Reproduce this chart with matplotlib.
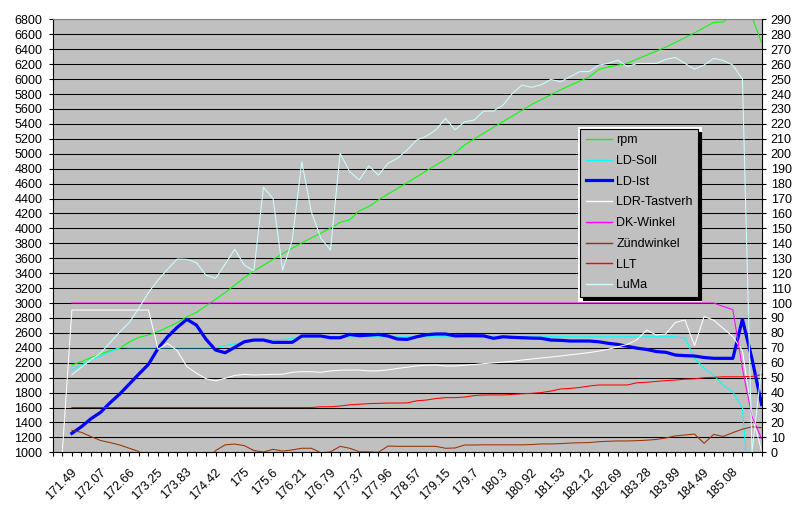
import numpy as np
import matplotlib
matplotlib.use('Agg')
import matplotlib.pyplot as plt
from matplotlib.patches import Rectangle
from matplotlib.transforms import ScaledTranslation

plt.rcParams['font.family'] = ['Liberation Sans', 'DejaVu Sans']

nan = np.nan

# x axis: one sample per category, labels on every third sample
time_labels = ['171.49', '172.07', '172.66', '173.25', '173.83', '174.42', '175', '175.6',
               '176.21', '176.79', '177.37', '177.96', '178.57', '179.15', '179.7', '180.3',
               '180.92', '181.53', '182.12', '182.69', '183.28', '183.89', '184.49', '185.08']
label_idx = list(range(2, 74, 3))

# left axis (rpm, mbar)
rpm = [nan, nan, 2170, 2215, 2268, 2318, 2362, 2395, 2480, 2540, 2572, 2617, 2676, 2738, 2816,
       2874, 2962, 3050, 3139, 3240, 3340, 3430, 3507, 3583, 3660, 3735, 3805, 3872, 3936, 4004,
       4080, 4115, 4235, 4293, 4380, 4460, 4535, 4612, 4691, 4770, 4848, 4925, 5010, 5118, 5198,
       5276, 5353, 5430, 5506, 5584, 5661, 5725, 5790, 5855, 5916, 5972, 6026, 6130, 6163, 6187,
       6215, 6268, 6321, 6375, 6428, 6490, 6555, 6620, 6690, 6760, 6765, 6880, 6950, 6830, 6490]
ld_soll = [nan, nan, 2102, 2169, 2236, 2290, 2348, 2405, 2400, 2400, 2400, 2400, 2400, 2400, 2400,
           2400, 2400, 2400, 2430, 2452, 2475, 2494, 2500, 2504, 2512, 2525, 2548, 2548, 2548, 2548,
           2548, 2548, 2548, 2548, 2548, 2548, 2548, 2548, 2548, 2548, 2548, 2548, 2548, 2548, 2548,
           2548, 2548, 2548, 2548, 2548, 2548, 2548, 2548, 2548, 2548, 2548, 2548, 2548, 2548, 2548,
           2548, 2548, 2548, 2548, 2548, 2548, 2530, 2260, 2128, 2030, 1895, 1810, 1590, 0, 0]
ld_ist = [nan, nan, 1254, 1343, 1450, 1536, 1665, 1781, 1915, 2049, 2179, 2393, 2548, 2674, 2781,
          2705, 2515, 2370, 2334, 2406, 2481, 2504, 2504, 2473, 2473, 2473, 2558, 2558, 2558, 2535,
          2535, 2580, 2562, 2570, 2580, 2558, 2518, 2513, 2548, 2575, 2585, 2585, 2560, 2562, 2562,
          2560, 2527, 2548, 2540, 2535, 2530, 2527, 2504, 2500, 2491, 2491, 2491, 2481, 2460, 2445,
          2420, 2395, 2378, 2350, 2340, 2303, 2295, 2290, 2270, 2259, 2259, 2259, 2781, 2250, 1640]

# right axis (%, deg, degC, kg/h)
ldr = [nan, 0, 95.3, 95.3, 95.3, 95.3, 95.3, 95.3, 95.3, 95.3, 95.3, 69, 73, 68, 57.5,
       53, 49.3, 47.8, 49.6, 51.5, 52.2, 51.8, 52, 52.2, 52.3, 53.6, 54, 54, 53.6, 54.5,
       55, 55.1, 55.1, 54.5, 54.6, 55.2, 56.2, 57, 57.9, 58.3, 58.5, 57.8, 57.8, 58.3, 58.8,
       59.4, 59.9, 60.4, 61, 61.8, 62.5, 63.2, 63.8, 64.5, 65.3, 66, 66.8, 67.8, 69, 70.7,
       72.3, 75.5, 81.9, 78.6, 79.3, 87, 88.6, 71.5, 91, 88.5, 83, 77.5, 68, 25, 1]
dk_winkel = [nan, nan, 100, 100, 100, 100, 100, 100, 100, 100, 100, 100, 100, 100, 100,
             100, 100, 100, 100, 100, 100, 100, 100, 100, 100, 100, 100, 100, 100, 100,
             100, 100, 100, 100, 100, 100, 100, 100, 100, 100, 100, 100, 100, 100, 100,
             100, 100, 100, 100, 100, 100, 100, 100, 100, 100, 100, 100, 100, 100, 100,
             100, 100, 100, 100, 100, 100, 100, 100, 100, 100, 97.7, 95.6, 56, 24, 9]
zuendwinkel = [nan, nan, 14.7, 13.4, 10.5, 7.9, 6.5, 4.9, 2.7, 0.5, -5, -5, -5, -5, -5,
               -5, -5, 1.1, 5.0, 5.5, 4.5, 1.2, 0.2, 2, 0.8, 1.6, 2.7, 2.7, -0.3, 0.3,
               4, 2.7, 0.4, 0.3, 0, 4.2, 4, 4, 4, 4, 4, 2.7, 2.9, 4.9, 4.9,
               5, 5, 5, 5, 5, 5.2, 5.6, 5.6, 5.8, 6.2, 6.4, 6.5, 7.1, 7.4, 7.6,
               7.6, 7.8, 8.1, 8.6, 9.6, 11, 11.6, 12.2, 6, 12, 10.6, 13.2, 15.5, 17.1, 16.5]
llt = [nan, nan, 30, 30, 30, 30, 30, 30, 30, 30, 30, 30, 30, 30, 30,
       30, 30, 30, 30, 30, 30, 30, 30, 30, 30, 30, 30, 30, 30.5, 30.5,
       31, 31.8, 32.2, 32.6, 32.8, 33, 33, 33.1, 34.5, 35, 36, 36.6, 36.6, 37, 38,
       38.4, 38.4, 38.4, 38.8, 39.2, 39.5, 40, 41, 42.4, 42.8, 43.4, 44.4, 45.1, 45.1, 45.1,
       45.1, 46.6, 46.9, 47.5, 48, 48.4, 49, 49.2, 50, 50.2, 50.6, 50.6, 50.6, 50.8, 52]
luma = [nan, nan, 52, 57, 62, 66.5, 73.5, 80.6, 87, 96.6, 107, 115.5, 122.7, 129.5, 129.3,
        127, 118.7, 116.5, 126, 136, 125.4, 121.6, 177.5, 170, 122, 142, 194.6, 161, 143.3, 135.5,
        200.3, 188, 182.4, 191.8, 185.7, 193.6, 197, 202.5, 209.2, 211.8, 216, 223.7, 216, 221.4, 222.6,
        228.6, 228.6, 232.5, 240.5, 246, 244.5, 246.2, 249.8, 248.2, 251.6, 255, 255, 259.4, 260.5, 262.7,
        258.3, 260.5, 260.5, 260.5, 263.2, 264.5, 260.5, 256.7, 259.4, 263.9, 262.5, 259.4, 250, 0, 57]

x = np.arange(len(rpm))

W, H = 797, 518
fig = plt.figure(figsize=(W / 100, H / 100), dpi=100)
left, right, top, bottom = 52.7, 761.6, 19.4, 452.3
ax1 = fig.add_axes([left / W, 1 - bottom / H, (right - left) / W, (bottom - top) / H])
ax1.set_facecolor('#C0C0C0')
ax2 = ax1.twinx()
ax2.patch.set_visible(False)

thin = 0.75
l_rpm, = ax1.plot(x, rpm, color='#00FF00', lw=thin)
l_soll, = ax1.plot(x, ld_soll, color='#00FFFF', lw=thin)
l_ist, = ax1.plot(x, ld_ist, color='#0000FF', lw=2.3)
l_ldr, = ax2.plot(x, ldr, color='#FFFFFF', lw=thin)
l_dk, = ax2.plot(x, dk_winkel, color='#FF00FF', lw=thin)
l_zw, = ax2.plot(x, zuendwinkel, color='#993300', lw=thin)
l_llt, = ax2.plot(x, llt, color='#FF0000', lw=thin)
l_luma, = ax2.plot(x, luma, color='#CCFFFF', lw=thin)

ax1.set_xlim(0, 74)
ax1.set_ylim(1000, 6800)
ax2.set_ylim(0, 290)
ax1.set_yticks(np.arange(1000, 6801, 200))
ax2.set_yticks(np.arange(0, 291, 10))
ax1.yaxis.grid(True, color='black', linewidth=0.75)

ax1.set_xticks(label_idx)
ax1.set_xticklabels(time_labels, rotation=45, ha='right', va='top', rotation_mode='anchor')
ax1.set_xticks(x, minor=True)
ax1.tick_params(axis='x', which='both', direction='out', length=3, width=0.8, labelsize=9, pad=7)
ax1.tick_params(axis='y', direction='out', length=3, width=0.8, labelsize=9, pad=4.5)
ax2.tick_params(axis='y', direction='out', length=3, width=0.8, labelsize=9, pad=3.5)
for lab in ax1.get_xticklabels():
    lab.set_transform(lab.get_transform() + ScaledTranslation(-1 / 100, 0, fig.dpi_scale_trans))

for sp in ax1.spines.values():
    sp.set_linewidth(0.8)
ax1.spines['top'].set_color('#808080')
ax1.spines['right'].set_visible(False)
for name in ['left', 'top', 'bottom']:
    ax2.spines[name].set_visible(False)
ax2.spines['right'].set_linewidth(0.8)

handles = [l_rpm, l_soll, l_ist, l_ldr, l_dk, l_zw, l_llt, l_luma]
labels = ['rpm', 'LD-Soll', 'LD-Ist', 'LDR-Tastverh', 'DK-Winkel', 'Zündwinkel', 'LLT', 'LuMa']
leg = fig.legend(handles, labels, loc='upper left', bbox_to_anchor=(580 / W, 1 - 128.5 / H),
                 fontsize=9, frameon=True, fancybox=False, edgecolor='black', facecolor='#C0C0C0',
                 framealpha=1, shadow={'color': 'black', 'alpha': 1, 'ox': 2.2, 'oy': -2.2},
                 handlelength=2.1, handletextpad=0.35, labelspacing=0.7, borderpad=0.45,
                 borderaxespad=0)
leg.get_frame().set_linewidth(0.8)
leg.set_zorder(5)
for hl in leg.get_lines():
    if hl.get_linewidth() < 1:
        hl.set_linewidth(1.0)

# thin white margin around the legend box, as in the original chart
fig.canvas.draw()
bb = leg.get_window_extent()
fig.patches.append(Rectangle(((bb.x0 - 2) / W, (bb.y0 - 5) / H), (bb.width + 6) / W, (bb.height + 7) / H,
                             transform=fig.transFigure, facecolor='white', edgecolor='none', zorder=4))

fig.savefig('out.png', dpi=100)
